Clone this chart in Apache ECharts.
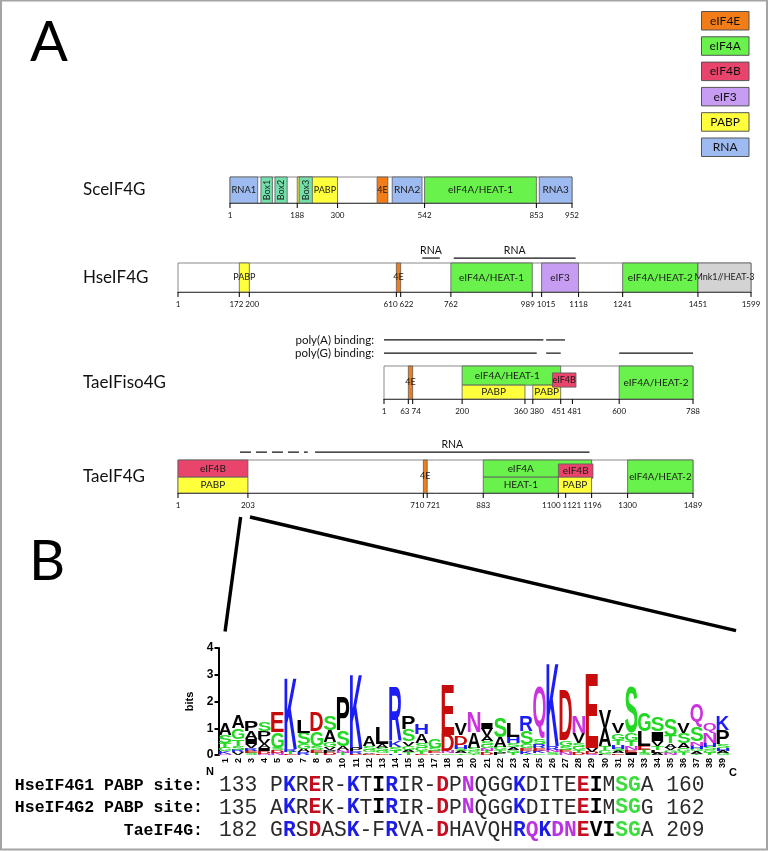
<!DOCTYPE html>
<html><head><meta charset="utf-8">
<script src="https://cdn.jsdelivr.net/npm/echarts@6/dist/echarts.min.js"></script>
<style>html,body{margin:0;padding:0;background:#fff}#c{width:769px;height:851px}</style>
</head><body><div id="c"></div>
<script>
// ---------------- DATA ----------------
const proteins = ['SceIF4G', 'HseIF4G', 'TaeIFiso4G', 'TaeIF4G'];
const proteinLengths = [952, 1599, 788, 1489];
const sceTicks = [1, 188, 300, 542, 853, 952];
const hsTicks = [1, 172, 200, 610, 622, 762, 989, 1015, 1118, 1241, 1451, 1599];
const isoTicks = [1, 63, 74, 200, 360, 380, 451, 481, 600, 788];
const taeTicks = [1, 203, 710, 721, 883, 1100, 1121, 1196, 1300, 1489];
// [start, end, label, kind, band]
const sceDomains = [
  [1, 78, 'RNA1', 'RNA', 'full'],
  [87, 119, 'Box1', 'Box', 'full'],
  [126, 160, 'Box2', 'Box', 'full'],
  [188, 300, 'PABP', 'PABP', 'full'],
  [193, 230, 'Box3', 'Box', 'full'],
  [410, 440, '4E', 'eIF4E', 'full'],
  [452, 535, 'RNA2', 'RNA', 'full'],
  [542, 853, 'eIF4A/HEAT-1', 'eIF4A', 'full'],
  [861, 952, 'RNA3', 'RNA', 'full']
];
const hsDomains = [
  [172, 200, 'PABP', 'PABP', 'full'],
  [610, 622, '4E', 'eIF4E', 'full'],
  [762, 989, 'eIF4A/HEAT-1', 'eIF4A', 'full'],
  [1015, 1118, 'eIF3', 'eIF3', 'full'],
  [1241, 1451, 'eIF4A/HEAT-2', 'eIF4A', 'full'],
  [1451, 1599, 'Mnk1//HEAT-3', 'Mnk1', 'full']
];
const isoDomains = [
  [63, 74, '4E', 'eIF4E', 'full'],
  [200, 451, 'eIF4A/HEAT-1', 'eIF4A', 'top'],
  [200, 360, 'PABP', 'PABP', 'bottom'],
  [380, 451, 'PABP', 'PABP', 'bottom'],
  [430, 490, 'eIF4B', 'eIF4B', 'mid'],
  [600, 788, 'eIF4A/HEAT-2', 'eIF4A', 'full']
];
const taeDomains = [
  [1, 203, 'eIF4B', 'eIF4B', 'top'],
  [1, 203, 'PABP', 'PABP', 'bottom'],
  [710, 721, '4E', 'eIF4E', 'full'],
  [883, 1196, 'eIF4A', 'eIF4A', 'top'],
  [883, 1100, 'HEAT-1', 'eIF4A', 'bottom'],
  [1100, 1200, 'eIF4B', 'eIF4B', 'mid'],
  [1100, 1196, 'PABP', 'PABP', 'bottom'],
  [1300, 1489, 'eIF4A/HEAT-2', 'eIF4A', 'full']
];
const hsRnaSites = [[682, 731], [770, 1110]];
const isoPolyA = [[1, 407], [414, 462]];
const isoPolyG = [[1, 390], [414, 451], [600, 788]];
const taeRnaDashed = [[180, 376]];
const taeRnaSites = [[397, 1190]];
const zoomRange = [182, 209];

const legendNames = ['eIF4E', 'eIF4A', 'eIF4B', 'eIF3', 'PABP', 'RNA'];

// sequence logo: letters per position (top to bottom) and their heights in bits
const logoLetters = ['ASTGKN','AGTSRV','PAIVRES','SPVAIDN','EGSDN','KRTE','LSGAR','DGSET','SAGVPD','PSANT',
  'KPRE','ASGVE','LASGE','RKSTH','PSVGAT','HASGTE','GSEA','EDNG','VDHSAT','NASGT',
  'IVASGNTD','SAGTP','LHSAGT','RSGEKT','QSREKG','KRNS','DGSEN','NVSGTD','EVDQ','VATGL',
  'VGTHSAE','SGTNEI','GLETS','SIVTLA','STAVGN','VSAGT','QSNHGAT','QNHSGT','KPSHAG'];
const logoHeights = [
  [.44,.30,.20,.12,.08,.05],[.50,.40,.25,.15,.10,.10],[.40,.30,.20,.15,.10,.08,.07],[.35,.30,.20,.15,.10,.10,.05],
  [.75,.60,.10,.10,.07],[2.65,.10,.08,.05],[.45,.42,.18,.14,.10],[.70,.55,.15,.10,.08],[.55,.45,.20,.10,.10,.08],
  [1.25,.60,.15,.10,.08],[2.75,.12,.08,.05],[.38,.12,.10,.05,.05],[.60,.12,.12,.10,.06],[2.0,.25,.15,.10,.06],
  [.50,.45,.15,.15,.10,.10],[.40,.35,.20,.12,.08,.05],[.34,.12,.08,.06],[1.87,.60,.10,.06],[.42,.35,.15,.10,.08,.06],
  [.75,.60,.12,.10,.05],[.26,.26,.20,.15,.12,.10,.08,.07],[.75,.38,.12,.10,.08],[.50,.25,.15,.10,.10,.08],
  [.55,.50,.15,.10,.10,.05],[1.95,.20,.15,.10,.10,.06],[3.10,.12,.10,.10],[1.88,.20,.15,.10,.10],
  [.62,.38,.15,.12,.10,.08],[2.75,.12,.08,.05],[.68,.68,.15,.12,.05],[.38,.25,.20,.12,.10,.08,.06],
  [1.70,.30,.20,.15,.10,.08],[.70,.55,.15,.12,.08],[.55,.35,.20,.15,.10,.08],[.62,.28,.15,.10,.10,.08],
  [.40,.38,.18,.15,.10],[.85,.55,.15,.12,.10,.08,.05],[.38,.38,.15,.12,.10,.08],[.55,.55,.15,.10,.08,.07]
];
const logoPositions = Array.from({length: 39}, (_, i) => String(i + 1));

const seqLabels = ['HseIF4G1 PABP site:', 'HseIF4G2 PABP site:', 'TaeIF4G:'];
const seqStarts = [133, 135, 182];
const seqEnds = [160, 162, 209];
const seqs = ['PKRER-KTIRIR-DPNQGGKDITEEIMSGA', 'AKREK-KTIRIR-DPNQGGKDITEEIMSGG', 'GRSDASK-FRVA-DHAVQHRQKDNEVISGA'];
const seqMarks = ['.b.r..b.kb...r.p...b....rk.gg.', '.b.r..b.kb...r.p...b....rk.gg.', '.b.r..b..b...r.....bpbpprkkgg.'];

// ---------------- STYLE / LAYOUT ----------------
const UI = 'Lato, "Noto Sans", sans-serif';
const LOGO_FONT = 'bold 100px "Liberation Sans", Arial, sans-serif';
const MONO = '"Liberation Mono", "Courier New", monospace';
const kindColors = { eIF4E: '#f27d18', eIF4A: '#69f24c', eIF4B: '#e9446c', eIF3: '#c79cf3', PABP: '#ffff3c', RNA: '#9dbbf0', Box: '#74dfab', Mnk1: '#d3d3d3' };
const residueColor = ch => ('AVLIPMFW'.includes(ch) ? '#000000' : 'GSTYC'.includes(ch) ? '#22d822' : 'QN'.includes(ch) ? '#cc33dd' : 'KRH'.includes(ch) ? '#1c1cf5' : '#c80c0c');
const gridBoxes = [
  { left: 230, top: 177, width: 342, height: 26 },
  { left: 178, top: 263, width: 573, height: 29 },
  { left: 384, top: 366, width: 309, height: 33 },
  { left: 178, top: 460, width: 515, height: 33 }
];
const logoBox = { left: 218.5, top: 648, width: 511, height: 107 };
const bandSets = [
  { full: [0, 1] },
  { full: [0, 1] },
  { full: [0, 1], top: [0.42, 1], bottom: [0, 0.42], mid: [0.36, 0.79] },
  { full: [0, 1], top: [0.48, 1], bottom: [0, 0.48], mid: [0.45, 0.88] }
];

const mctx = document.createElement('canvas').getContext('2d');
function textWidth(s, font) { mctx.font = font; return mctx.measureText(s).width; }
const glyphCache = {};
function glyph(ch) {
  if (!glyphCache[ch]) {
    mctx.font = LOGO_FONT; mctx.textAlign = 'left'; mctx.textBaseline = 'middle';
    const m = mctx.measureText(ch);
    glyphCache[ch] = { L: m.actualBoundingBoxLeft, R: m.actualBoundingBoxRight, A: m.actualBoundingBoxAscent, D: m.actualBoundingBoxDescent };
  }
  return glyphCache[ch];
}

function barRenderer(len) {
  return function (params, api) {
    const p0 = api.coord([1, 0]), p1 = api.coord([len, 1]);
    return { type: 'rect', shape: { x: p0[0], y: p1[1], width: p1[0] - p0[0], height: p0[1] - p1[1] },
      style: { fill: '#ffffff', stroke: '#8a8a8a', lineWidth: 1 } };
  };
}
function domainRenderer(domains, bands) {
  return function (params, api) {
    const d = domains[params.dataIndex];
    const b = bands[d[4]];
    const p0 = api.coord([d[0], b[0]]), p1 = api.coord([d[1], b[1]]);
    let ls = d[0], le = d[1];
    const mid = (b[0] + b[1]) / 2;
    for (let j = params.dataIndex + 1; j < domains.length; j++) {
      const o = domains[j], ob = bands[o[4]];
      if (ob[0] < mid && ob[1] > mid && o[0] < le && o[1] > ls) {
        const lw = Math.max(ls, o[0]) - ls, rw = le - Math.min(le, o[1]);
        if (lw >= rw) le = Math.max(ls, o[0]); else ls = Math.min(le, o[1]);
      }
    }
    const lc = api.coord([(ls + le) / 2, mid]);
    const vertical = d[3] === 'Box';
    let fs = vertical ? 9 : 10;
    if (!vertical) {
      const avail = api.coord([le, mid])[0] - api.coord([ls, mid])[0] - 3;
      const w = textWidth(d[2], fs + 'px ' + UI);
      if (w > avail) fs = Math.max(9, fs * avail / w);
    }
    return { type: 'group', children: [
      { type: 'rect', shape: { x: p0[0], y: p1[1], width: p1[0] - p0[0], height: p0[1] - p1[1] },
        style: { fill: kindColors[d[3]], stroke: '#5a5a5a', lineWidth: 0.8 } },
      { type: 'text', x: lc[0], y: lc[1], rotation: vertical ? Math.PI / 2 : 0,
        style: { text: d[2], font: fs.toFixed(2) + 'px ' + UI, fill: '#1a1a1a', textAlign: 'center', textVerticalAlign: 'middle', align: 'center', verticalAlign: 'middle' } }
    ] };
  };
}
const TICK_FONT = '8px ' + UI;
function tickRenderer(ticks) {
  return function (params, api) {
    const base = api.coord([ticks[0], 0])[1];
    const xs = ticks.map(t => api.coord([t, 0])[0]);
    const ws = ticks.map(t => textWidth(String(t), TICK_FONT));
    const lx = xs.slice();
    for (let it = 0; it < 80; it++) {
      let moved = false;
      for (let i = 0; i < lx.length - 1; i++) {
        const need = (ws[i] + ws[i + 1]) / 2 + 2, gap = lx[i + 1] - lx[i];
        if (gap < need - 0.01) { const dd = (need - gap) / 2; lx[i] -= dd; lx[i + 1] += dd; moved = true; }
      }
      if (!moved) break;
    }
    const ch = [];
    ticks.forEach((t, i) => {
      ch.push({ type: 'line', shape: { x1: xs[i], y1: base, x2: xs[i], y2: base + 5 }, style: { stroke: '#111', lineWidth: 1.1 } });
      ch.push({ type: 'text', x: lx[i], y: base + 8, style: { text: String(t), font: TICK_FONT, fill: '#111', textAlign: 'center', textVerticalAlign: 'top', align: 'center', verticalAlign: 'top' } });
    });
    return { type: 'group', children: ch };
  };
}
function annoRenderer(annos, rowY, rowLabels) {
  return function (params, api) {
    const a = annos[params.dataIndex];
    const y = rowY[a[2]];
    const p0 = api.coord([a[0], y]), p1 = api.coord([a[1], y]);
    const ch = [{ type: 'line', shape: { x1: p0[0], y1: p0[1], x2: p1[0], y2: p1[1] },
      style: { stroke: '#111', lineWidth: 1.2, lineDash: a[4] ? [11, 5] : null } }];
    if (a[3]) ch.push({ type: 'text', x: (p0[0] + p1[0]) / 2, y: p0[1] - 1.5,
      style: { text: a[3], font: '10.5px ' + UI, fill: '#111', textAlign: 'center', textVerticalAlign: 'bottom', align: 'center', verticalAlign: 'bottom' } });
    const firstOfRow = annos.findIndex(o => o[2] === a[2]) === params.dataIndex;
    if (rowLabels && rowLabels[a[2]] && firstOfRow) {
      const gx = api.coord([1, y])[0];
      ch.push({ type: 'text', x: gx - 10, y: p0[1], style: { text: rowLabels[a[2]], font: '11.5px ' + UI, fill: '#111', textAlign: 'right', textVerticalAlign: 'middle', align: 'right', verticalAlign: 'middle' } });
    }
    return { type: 'group', children: ch };
  };
}

// logo items
const logoItems = [];
logoLetters.forEach((letters, c) => {
  let y = 0;
  for (let k = letters.length - 1; k >= 0; k--) {
    const h = logoHeights[c][k];
    logoItems.push({ col: c, ch: letters[k], y0: y, y1: y + h });
    y += h;
  }
});
function logoRenderer(params, api) {
  const it = logoItems[params.dataIndex];
  const top = api.coord([it.col, it.y1]), bot = api.coord([it.col, it.y0]);
  const bw = api.size([1, 0])[0] * 0.96;
  const h = bot[1] - top[1];
  if (h < 0.2) return;
  const g = glyph(it.ch);
  const sx = bw / (g.L + g.R), sy = h / (g.A + g.D);
  return { type: 'text', x: top[0] - bw / 2 + g.L * sx, y: bot[1] - g.D * sy, scaleX: sx, scaleY: sy,
    style: { text: it.ch, font: LOGO_FONT, fill: residueColor(it.ch), textAlign: 'left', textVerticalAlign: 'middle', align: 'left', verticalAlign: 'middle' } };
}

// ---------------- OPTION ----------------
const allDomains = [sceDomains, hsDomains, isoDomains, taeDomains];
const allTicks = [sceTicks, hsTicks, isoTicks, taeTicks];
const annotations = [
  null,
  { list: hsRnaSites.map(s => [s[0], s[1], 'rna', 'RNA', false]), rows: { rna: 1.17 } },
  { list: isoPolyA.map(s => [s[0], s[1], 'a', '', false]).concat(isoPolyG.map(s => [s[0], s[1], 'g', '', false])),
    rows: { a: 1.79, g: 1.39 }, labels: { a: 'poly(A) binding:', g: 'poly(G) binding:' } },
  { list: taeRnaDashed.map(s => [s[0], s[1], 'rna', '', true]).concat(taeRnaSites.map(s => [s[0], s[1], 'rna', 'RNA', false])), rows: { rna: 1.24 } }
];

const grids = gridBoxes.map(g => Object.assign({ containLabel: false }, g)).concat([Object.assign({}, logoBox)]);
const xAxes = proteinLengths.map((len, i) => ({ gridIndex: i, type: 'value', min: 1, max: len,
  axisLine: { show: true, lineStyle: { color: '#111', width: 1 } }, axisTick: { show: false }, axisLabel: { show: false }, splitLine: { show: false } }));
xAxes.push({ gridIndex: 4, type: 'category', data: logoPositions, boundaryGap: true,
  axisLine: { show: false }, axisTick: { show: false },
  axisLabel: { interval: 0, rotate: 90, fontSize: 9, fontWeight: 'bold', color: '#000', margin: 3, fontFamily: '"Liberation Sans", Arial' } });
const yAxes = proteinLengths.map((len, i) => ({ gridIndex: i, type: 'value', min: 0, max: 1, show: false }));
yAxes.push({ gridIndex: 4, type: 'value', min: 0, max: 4, interval: 1, name: 'bits', nameLocation: 'middle', nameGap: 16, nameRotate: 90,
  nameTextStyle: { fontWeight: 'bold', fontSize: 11, color: '#000', fontFamily: '"Liberation Sans", Arial' },
  axisLine: { show: true, lineStyle: { color: '#000', width: 2 } }, axisTick: { show: true, length: 4, lineStyle: { color: '#000', width: 2 } },
  axisLabel: { fontWeight: 'bold', fontSize: 12, color: '#000', margin: 5, fontFamily: '"Liberation Sans", Arial' }, splitLine: { show: false } });

const series = [];
proteins.forEach((p, i) => {
  series.push({ type: 'custom', xAxisIndex: i, yAxisIndex: i, z: 1, silent: true, data: [[1, proteinLengths[i], 0, 1]], encode: { x: [0, 1], y: [2, 3] }, renderItem: barRenderer(proteinLengths[i]) });
  series.push({ type: 'custom', xAxisIndex: i, yAxisIndex: i, z: 2, silent: true, data: allDomains[i].map(d => [d[0], d[1], 0, 1]), encode: { x: [0, 1], y: [2, 3] }, renderItem: domainRenderer(allDomains[i], bandSets[i]) });
  series.push({ type: 'custom', xAxisIndex: i, yAxisIndex: i, z: 3, silent: true, data: [[1, 0]], encode: { x: 0, y: 1 }, renderItem: tickRenderer(allTicks[i]) });
  const an = annotations[i];
  if (an) series.push({ type: 'custom', xAxisIndex: i, yAxisIndex: i, z: 3, silent: true, data: an.list.map(a => [a[0], a[1], 0, 1]), encode: { x: [0, 1], y: [2, 3] }, renderItem: annoRenderer(an.list, an.rows, an.labels) });
});
series.push({ type: 'custom', xAxisIndex: 4, yAxisIndex: 4, z: 3, silent: true, data: logoItems.map(it => [it.col, it.y0, it.y1]), encode: { x: 0, y: [1, 2] }, renderItem: logoRenderer });

function txt(id, x, y, text, font, align, valign, fill) {
  return { id, type: 'text', x, y, silent: true, style: { text, font, fill: fill || '#111', textAlign: align, textVerticalAlign: valign, align, verticalAlign: valign } };
}
const graphics = [];
graphics.push({ id: 'border', type: 'rect', silent: true, shape: { x: 1, y: 0.5, width: 766, height: 849 }, style: { fill: 'none', stroke: '#a4a4a4', lineWidth: 2 } });
graphics.push(txt('A', 30, 43, 'A', '56px ' + UI, 'left', 'middle', '#000'));
graphics.push(txt('B', 29, 562, 'B', '56px ' + UI, 'left', 'middle', '#000'));
legendNames.forEach((n, i) => {
  const top = 11.5 + i * 25.3;
  graphics.push({ id: 'lgr' + i, type: 'rect', silent: true, shape: { x: 701.5, y: top, width: 47.5, height: 18.5 }, style: { fill: kindColors[n], stroke: '#555', lineWidth: 1 } });
  graphics.push(txt('lgt' + i, 725.2, top + 9.5, n, '12px ' + UI, 'center', 'middle', '#111'));
});
proteins.forEach((p, i) => {
  const g = gridBoxes[i];
  graphics.push(txt('pn' + i, 83, g.top + g.height / 2, p, '17px ' + UI, 'left', 'middle', '#111'));
});
graphics.push(txt('N', 210, 772, 'N', 'bold 11px "Liberation Sans", Arial', 'center', 'middle', '#000'));
graphics.push(txt('C', 733, 773, 'C', 'bold 11px "Liberation Sans", Arial', 'center', 'middle', '#000'));
const markStyle = { '.': 'n', b: 'b', r: 'r', p: 'p', g: 'g', k: 'k' };
const SEQ_SIZE = 21.3;
const rich = {
  n: { fontFamily: MONO, fontSize: SEQ_SIZE, fill: '#2b2b2b', textFill: '#2b2b2b' },
  b: { fontFamily: MONO, fontSize: SEQ_SIZE, fontWeight: 'bold', fill: '#1c1ce8', textFill: '#1c1ce8' },
  r: { fontFamily: MONO, fontSize: SEQ_SIZE, fontWeight: 'bold', fill: '#c20e1e', textFill: '#c20e1e' },
  p: { fontFamily: MONO, fontSize: SEQ_SIZE, fontWeight: 'bold', fill: '#bb33e0', textFill: '#bb33e0' },
  g: { fontFamily: MONO, fontSize: SEQ_SIZE, fontWeight: 'bold', fill: '#3ddc3d', textFill: '#3ddc3d' },
  k: { fontFamily: MONO, fontSize: SEQ_SIZE, fontWeight: 'bold', fill: '#000', textFill: '#000' }
};
seqs.forEach((s, r) => {
  const y = 785.5 + r * 22.5;
  graphics.push(txt('sl' + r, 203, y, seqLabels[r], 'bold 16.5px ' + MONO, 'right', 'middle', '#000'));
  let t = '{n|' + seqStarts[r] + ' }';
  for (let k = 0; k < s.length; k++) t += '{' + markStyle[seqMarks[r][k]] + '|' + s[k] + '}';
  t += '{n| ' + seqEnds[r] + '}';
  graphics.push({ id: 'sq' + r, type: 'text', x: 219, y, silent: true, style: { text: t, rich, fill: '#2b2b2b', textAlign: 'left', textVerticalAlign: 'middle', align: 'left', verticalAlign: 'middle' } });
});

const option = {
  animation: false,
  backgroundColor: '#ffffff',
  textStyle: { fontFamily: UI },
  grid: grids,
  xAxis: xAxes,
  yAxis: yAxes,
  series,
  graphic: graphics
};
const chart = echarts.init(document.getElementById('c'), null, { renderer: 'canvas', width: 769, height: 851 });
chart.setOption(option);

// zoom connector lines from TaeIF4G region to the logo
const s1 = chart.convertToPixel({ gridIndex: 3 }, [zoomRange[0], 0]);
const s2 = chart.convertToPixel({ gridIndex: 3 }, [zoomRange[1], 0]);
const e1 = chart.convertToPixel({ gridIndex: 4 }, [0, 4.62]);
const e2 = chart.convertToPixel({ gridIndex: 4 }, [38.6, 4.65]);
graphics.push({ id: 'z1', type: 'line', silent: true, shape: { x1: s1[0], y1: s1[1] + 24, x2: e1[0], y2: e1[1] }, style: { stroke: '#000', lineWidth: 3.4 } });
graphics.push({ id: 'z2', type: 'line', silent: true, shape: { x1: s2[0], y1: s2[1] + 24, x2: e2[0], y2: e2[1] }, style: { stroke: '#000', lineWidth: 3.4 } });
chart.setOption({ graphic: graphics });
</script></body></html>
